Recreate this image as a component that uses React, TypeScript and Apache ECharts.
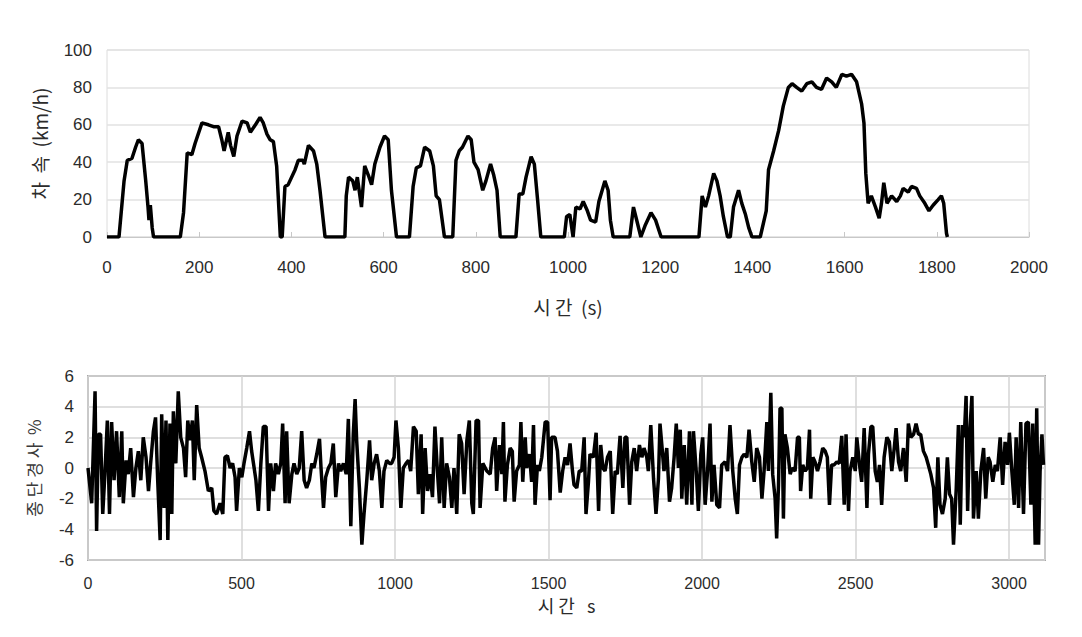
import React, { useEffect, useRef } from "react";
import * as echarts from "echarts";

// ---- Top chart: vehicle speed (km/h) vs time (s)
const speedTime = [
  0, 26, 37, 44, 54, 62, 68, 76, 84, 89, 91, 94, 98, 101,
  159, 166, 174, 184, 191, 206, 220, 231, 242, 249, 254, 263, 268, 275, 282, 293, 304, 311, 322, 332, 339, 347, 354, 361, 368, 376,
  380, 386, 393, 408, 415, 425, 428, 437, 448, 455, 462, 473,
  516, 519, 524, 533, 538, 543, 552, 559, 567, 574, 581, 592, 602, 610, 617, 628,
  656, 664, 671, 680, 689, 700, 708, 714, 721, 732,
  750, 757, 764, 771, 783, 790, 796, 805, 815, 822, 832, 839, 846, 853,
  887, 894, 902, 909, 920, 927, 934, 941,
  992, 997, 1004, 1011, 1017, 1026, 1033, 1042, 1049, 1060, 1067, 1080, 1087, 1092, 1098,
  1134, 1142, 1150, 1158, 1167, 1180, 1190, 1202,
  1284, 1291, 1298, 1305, 1316, 1323, 1330, 1337, 1346, 1352, 1359, 1370, 1377, 1385, 1392, 1399,
  1417, 1430, 1435, 1446, 1457, 1467, 1478, 1486, 1496, 1507, 1518, 1529, 1539, 1550, 1561, 1572, 1582, 1594, 1604, 1615, 1626, 1637, 1642, 1646, 1651, 1658, 1667, 1675, 1680, 1685, 1692, 1702, 1713, 1721, 1727, 1738, 1745, 1756, 1763, 1774, 1783, 1792, 1803, 1810, 1815, 1821, 1823,
];
const speedKmh = [
  0, 0, 30, 41, 42, 48, 52, 50, 30, 16, 9, 17, 5, 0,
  0, 13, 45, 44, 50, 61, 60, 59, 59, 52, 46, 56, 49, 43, 54, 62, 61, 56, 60, 64, 61, 55, 52, 51, 38, 0,
  0, 27, 28, 36, 41, 41, 39, 49, 46, 39, 25, 0,
  0, 22, 32, 30, 25, 32, 16, 38, 33, 28, 39, 48, 54, 52, 25, 0,
  0, 27, 37, 38, 48, 46, 38, 22, 20, 0,
  0, 41, 46, 48, 54, 52, 40, 36, 25, 30, 39, 33, 25, 0,
  0, 23, 23, 32, 43, 39, 20, 0,
  0, 11, 12, 0, 16, 15, 19, 14, 9, 8, 19, 30, 25, 9, 0,
  0, 16, 8, 0, 6, 13, 9, 0,
  0, 22, 16, 22, 34, 30, 22, 11, 0, 0, 16, 25, 18, 12, 5, 0,
  0, 14, 36, 46, 57, 70, 80, 82, 80, 78, 82, 83, 80, 79, 85, 83, 80, 87, 86, 87, 83, 71, 61, 34, 18, 22, 16, 10, 18, 29, 18, 22, 19, 22, 26, 24, 27, 26, 22, 18, 14, 17, 20, 22, 18, 2, 0,
];

// ---- Bottom chart: longitudinal slope (%) vs time (s)
const slopeTime = [
  0, 12, 23, 28, 34, 41, 48, 55, 63, 70, 77, 85, 93, 102, 110, 115, 124, 131, 139, 148, 156, 164, 172, 180, 189, 197,
  204, 213, 220, 227, 235, 240, 248, 254, 260, 267, 273, 278, 286, 294, 302, 311, 318, 325, 332, 340, 346, 354, 362, 370,
  381, 392, 403, 410, 419, 430, 439, 446, 454, 463, 471, 479, 484, 493, 501, 508, 517, 526, 533, 539, 547, 555, 563, 571,
  580, 588, 595, 604, 611, 620, 628, 634, 642, 647, 655, 664, 671, 680, 688, 696, 704, 712, 721, 729, 736, 745, 754, 759,
  767, 774, 783, 791, 799, 807, 816, 823, 832, 841, 848, 856, 864, 870, 875, 884, 892, 899, 908, 917, 924, 932, 940, 949,
  957, 964, 973, 982, 989, 997, 1003, 1011, 1019, 1027, 1036, 1044, 1051, 1060, 1069, 1076, 1085, 1090, 1098, 1106, 1114,
  1122, 1130, 1138, 1145, 1152, 1160, 1168, 1177, 1185, 1192, 1201, 1209, 1217, 1225, 1234, 1242, 1250, 1255, 1264, 1272,
  1277, 1286, 1299, 1310, 1318, 1326, 1331, 1340, 1348, 1353, 1358, 1366, 1375, 1382, 1388, 1396, 1405, 1410, 1416, 1424,
  1429, 1438, 1445, 1451, 1456, 1464, 1470, 1478, 1489, 1497, 1505, 1510, 1521, 1529, 1538, 1546, 1554, 1562, 1570, 1578,
  1583, 1592, 1600, 1608, 1616, 1622, 1630, 1635, 1646, 1655, 1663, 1670, 1677, 1684, 1692, 1701, 1709, 1717, 1724, 1733,
  1742, 1749, 1755, 1764, 1771, 1779, 1787, 1796, 1804, 1811, 1820, 1825, 1833, 1842, 1850, 1858, 1863, 1869, 1876, 1885,
  1894, 1901, 1909, 1916, 1923, 1929, 1934, 1942, 1950, 1959, 1967, 1972, 1981, 1988, 1996, 2002, 2010, 2018, 2026, 2032,
  2039, 2048, 2057, 2064, 2075, 2083, 2091, 2100, 2108, 2115, 2122, 2130, 2137, 2146, 2153, 2162, 2170, 2178, 2187, 2195,
  2202, 2211, 2216, 2224, 2230, 2238, 2243, 2249, 2254, 2260, 2265, 2270, 2278, 2287, 2294, 2303, 2311, 2317, 2321, 2328,
  2336, 2343, 2350, 2354, 2361, 2368, 2376, 2384, 2393, 2401, 2408, 2415, 2422, 2430, 2439, 2447, 2455, 2463, 2469, 2477,
  2482, 2491, 2499, 2504, 2513, 2520, 2528, 2537, 2542, 2550, 2556, 2564, 2571, 2578, 2585, 2593, 2602, 2610, 2618, 2626,
  2632, 2640, 2647, 2656, 2665, 2672, 2680, 2689, 2697, 2705, 2712, 2721, 2730, 2737, 2745, 2754, 2761, 2768, 2775, 2783,
  2792, 2799, 2806, 2813, 2819, 2828, 2835, 2841, 2848, 2854, 2860, 2865, 2871, 2879, 2884, 2893, 2900, 2908, 2917, 2924,
  2932, 2938, 2947, 2955, 2962, 2971, 2979, 2987, 2995, 3001, 3009, 3017, 3023, 3031, 3038, 3047, 3055, 3063, 3071, 3077,
  3085, 3090, 3096, 3101, 3107, 3112,
];
const slopePct = [
  0, -2.3, 5.0, -4.1, 2.2, 2.2, -3.0, -0.4, 3.1, -3.0, 3.0, -0.8, 2.4, -1.9, 2.4, -2.3, 0.5, -0.4, 1.3, -1.9, 0.0, 1.1, -0.8, 2.0, 0.7, -1.5,
  0.3, 2.4, 3.3, -0.8, -4.7, 3.5, -2.6, 3.1, -4.7, 2.9, -3.0, 3.7, 0.3, 5.0, 2.0, 1.3, -0.6, 3.1, 1.8, 3.1, -0.8, 4.1, 1.3, 0.7,
  -0.2, -1.5, -1.3, -2.8, -3.0, -2.3, -3.0, 0.7, 0.8, 0.0, 0.3, -0.6, -2.8, 0.0, -0.6, 0.3, 1.3, 2.4, 1.1, 0.3, -0.8, -2.8, 0.3, 2.7,
  2.7, -2.8, 0.3, -1.5, 0.3, -0.4, 0.3, 2.9, -2.3, 2.4, -2.3, -0.4, 0.3, -0.4, 0.0, 2.4, -0.8, -1.3, -0.8, 0.3, 0.0, 0.9, 1.9, 0.0,
  -2.6, -0.6, 0.0, 0.3, 1.6, -1.9, 0.3, -0.2, 0.3, -0.4, 3.2, -3.8, 2.2, 4.5, 1.8, -1.3, -5.0, -3.0, -0.8, 1.8, -0.8, 0.3, 0.9, -0.2,
  -2.6, -0.2, 0.5, 0.3, 0.3, 0.7, 3.1, 1.3, -2.6, 0.0, 0.3, 0.5, -0.2, 2.7, 2.4, -1.7, 2.2, -3.0, 1.3, -1.5, -0.4,
  -1.9, 2.7, -0.2, -2.3, 2.0, -2.6, 0.3, -0.6, -2.6, 0.0, -3.0, 2.2, 1.6, -1.7, 1.8, 3.1, -2.3, -3.0, 3.1, 3.1,
  -2.6, 0.3, -0.2, -0.4, 1.3, 2.0, -1.5, 1.5, -0.4, 3.0, -2.2, 0.2, 1.3, 1.1, -2.2, -0.2, 0.2, 3.0, -0.9, 2.0,
  0.0, 0.9, -0.9, 2.8, -2.4, 0.2, -0.2, 0.7, 3.0, 3.0, -2.1, 2.0, 2.0, 1.1, -1.6, -0.2, 0.7, 0.2, 1.6, -0.2,
  -1.1, -1.3, -0.2, -0.2, 2.0, -3.0, -0.9, 0.9, 0.7, 2.3, -2.8, 1.5, 0.0, -0.2, 0.7, 1.1, -3.0, -0.2, -0.4, 2.1,
  -1.3, 2.0, 2.0, -2.4, 0.4, 1.3, -0.2, 1.5, 0.7, 1.3, 0.7, -0.2, 2.8, -0.7, -3.0, -0.7, 2.9, 1.5, -0.2, 1.3,
  -2.2, -1.3, 0.7, 2.9, 0.0, 2.5, -2.0, 1.5, -2.4, 2.4, -2.4, 2.4, -0.2, -2.8, 0.9, 2.0, -2.4, -0.2, 2.9, -2.2,
  0.2, -2.4, -2.6, 0.2, 0.4, -0.2, 2.8, -0.2, -2.0, -3.0, 0.2, 0.7, 0.9, 0.7, 2.5, 0.4, -0.9, 1.3, 0.7, -2.0,
  -0.2, 3.0, -0.2, 4.9, -0.4, -2.0, -4.6, -1.1, 3.9, 3.9, -3.3, 2.2, 1.3, -0.4, 0.0, -0.2, 2.0, 2.0, -1.5, 0.2,
  -0.2, 0.0, 2.5, -2.0, 0.7, 0.4, -0.2, 0.4, 1.3, 1.1, 0.7, -2.4, 0.2, 0.2, 0.4, 0.3, 2.1, -2.4, 2.2, -2.8,
  -0.2, 0.7, -0.2, 2.0, 0.2, -0.9, 2.6, -2.6, 0.9, 2.7, 2.7, -0.2, -0.9, 0.2, -2.4, 0.7, 2.0, 1.7, -0.2, 1.3,
  2.6, 0.4, -0.2, 1.3, -0.9, 2.9, 2.0, 2.2, 2.9, 2.2, 2.2, 1.1, 0.7, 0.2, -0.4, -1.3, -3.9, 0.7, -2.4, -3.0,
  -2.0, 0.7, -1.7, -2.0, -5.0, -1.3, 2.8, -3.7, 2.8, 2.0, 4.7, -2.8, 2.0, 4.7, -3.3, -0.2, -3.3, -0.2, 1.3, -2.0,
  0.7, 0.4, -0.9, 0.2, -0.2, 2.0, -1.1, 1.7, 0.2, 2.3, -0.2, -2.4, 2.0, -2.6, 3.0, -3.0, 2.9, 3.0, -2.4, 2.9,
  -5.0, 3.9, -5.0, -0.2, 2.2, 0.2,
];

// ---- Tick labels
const speedXTicks = [0, 200, 400, 600, 800, 1000, 1200, 1400, 1600, 1800, 2000];
const speedYTicks = [0, 20, 40, 60, 80, 100];
const slopeXTicks = [0, 500, 1000, 1500, 2000, 2500, 3000];
const slopeYTicks = [-6, -4, -2, 0, 2, 4, 6];
const slopeXMax = 3117;

const labelFont = {
  color: "#2b2b2b",
  fontFamily: "Liberation Sans, Arial, sans-serif",
  fontSize: 17,
};
const nameFont = {
  color: "#2b2b2b",
  fontFamily: "Noto Sans CJK KR, sans-serif",
  fontSize: 18,
};

export default function App() {
  const ref = useRef<HTMLDivElement>(null);

  useEffect(() => {
    if (!ref.current) return;
    const chart = echarts.init(ref.current, null, { renderer: "svg" });
    const speedData = speedTime.map((t, i) => [t, speedKmh[i]]);
    const slopeData = slopeTime.map((t, i) => [t, slopePct[i]]);
    const sxStep = speedXTicks[1] - speedXTicks[0];
    const syStep = speedYTicks[1] - speedYTicks[0];
    const bxStep = slopeXTicks[1] - slopeXTicks[0];
    const byStep = slopeYTicks[1] - slopeYTicks[0];
    const plain = (v: number) => String(v);

    chart.setOption({
      animation: false,
      backgroundColor: "#ffffff",
      grid: [
        {
          left: 107,
          top: 50,
          width: 922,
          height: 187,
          show: true,
          borderColor: "#dcdcdc",
          borderWidth: 1,
        },
        {
          left: 88,
          top: 376,
          width: 957,
          height: 184,
          show: true,
          borderColor: "#a8a8a8",
          borderWidth: 2,
        },
      ],
      xAxis: [
        {
          gridIndex: 0,
          type: "value",
          min: speedXTicks[0],
          max: speedXTicks[speedXTicks.length - 1],
          interval: sxStep,
          name: "시 간  (s)",
          nameLocation: "middle",
          nameGap: 60,
          nameTextStyle: { ...nameFont, fontSize: 19 },
          axisLine: { show: true, lineStyle: { color: "#c8c8c8", width: 1 } },
          axisTick: { show: true, inside: true, length: 5, lineStyle: { color: "#c8c8c8" } },
          axisLabel: { ...labelFont, margin: 22, formatter: plain },
          splitLine: { show: false },
        },
        {
          gridIndex: 1,
          type: "value",
          min: slopeXTicks[0],
          max: slopeXMax,
          interval: bxStep,
          name: "시 간   s",
          nameLocation: "middle",
          nameGap: 36,
          nameTextStyle: { ...nameFont, fontSize: 18 },
          axisLine: { show: false },
          axisTick: { show: false },
          axisLabel: {
            ...labelFont,
            fontSize: 16,
            margin: 15,
            showMaxLabel: false,
            formatter: (v: number) => (slopeXTicks.includes(v) ? String(v) : ""),
          },
          splitLine: { show: true, lineStyle: { color: "#d4d4d4", width: 1.5 } },
        },
      ],
      yAxis: [
        {
          gridIndex: 0,
          type: "value",
          min: speedYTicks[0],
          max: speedYTicks[speedYTicks.length - 1],
          interval: syStep,
          name: "차  속  (km/h)",
          nameLocation: "middle",
          nameGap: 58,
          nameRotate: 90,
          nameTextStyle: { ...nameFont, fontSize: 19 },
          axisLine: { show: false },
          axisTick: { show: false },
          axisLabel: { ...labelFont, margin: 15, formatter: plain },
          splitLine: { show: true, lineStyle: { color: "#e2e2e2", width: 1.5 } },
        },
        {
          gridIndex: 1,
          type: "value",
          min: slopeYTicks[0],
          max: slopeYTicks[slopeYTicks.length - 1],
          interval: byStep,
          name: "종 단 경 사  %",
          nameLocation: "middle",
          nameGap: 46,
          nameRotate: 90,
          nameTextStyle: { ...nameFont, color: "#3a3a3a", fontSize: 17 },
          axisLine: { show: false },
          axisTick: { show: false },
          axisLabel: { ...labelFont, margin: 14, formatter: plain },
          splitLine: { show: true, lineStyle: { color: "#d4d4d4", width: 1.5 } },
        },
      ],
      series: [
        {
          type: "line",
          xAxisIndex: 0,
          yAxisIndex: 0,
          data: speedData,
          showSymbol: false,
          lineStyle: { color: "#000", width: 3.5 },
          silent: true,
        },
        {
          type: "line",
          xAxisIndex: 1,
          yAxisIndex: 1,
          data: slopeData,
          showSymbol: false,
          lineStyle: { color: "#000", width: 3.5 },
          silent: true,
        },
      ],
    });
    return () => chart.dispose();
  }, []);

  return (
    <div
      ref={ref}
      style={{ position: "fixed", left: 0, top: 0, width: 1082, height: 637, background: "#fff" }}
    />
  );
}
